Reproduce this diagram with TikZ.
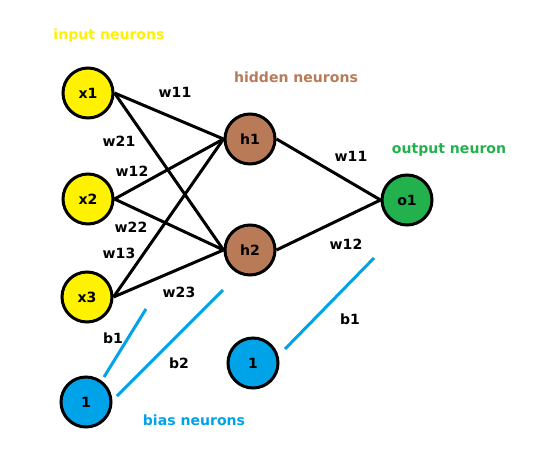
\documentclass[tikz,border=0pt]{standalone}
\usepackage{fontspec}
\setmainfont{DejaVu Sans}
\definecolor{inyellow}{RGB}{255,242,0}
\definecolor{hidbrown}{RGB}{185,122,87}
\definecolor{outgreen}{RGB}{34,177,76}
\definecolor{biasblue}{RGB}{0,162,232}
\begin{document}
\begin{tikzpicture}[x=0.03cm,y=-0.03cm,
        neuron/.style={circle,draw,line width=0.09cm,minimum size=1.5cm,inner sep=0pt,font=\bfseries\fontsize{12}{14}\selectfont},
        wire/.style={line width=0.09cm},
        biasline/.style={line width=0.09cm,biasblue},
        lbl/.style={font=\bfseries\fontsize{12}{14}\selectfont}]
        \useasboundingbox (0,0) rectangle (539,474);
        % neurons
        \node[neuron,fill=inyellow](x1) at (88,93){x1};
        \node[neuron,fill=inyellow](x2) at (88,199){x2};
        \node[neuron,fill=inyellow](x3) at (87,297){x3};
        \node[neuron,fill=hidbrown](h1) at (250,139){h1};
        \node[neuron,fill=hidbrown](h2) at (250,250){h2};
        \node[neuron,fill=outgreen](o1) at (407,200){o1};
        \node[neuron,fill=biasblue](b1) at (86,402){1};
        \node[neuron,fill=biasblue](b2) at (253,363){1};
        % weights
        \draw[wire](x1.east)--(h1.west);
        \draw[wire](x1.east)--(h2.west);
        \draw[wire](x2.east)--(h1.west);
        \draw[wire](x2.east)--(h2.west);
        \draw[wire](x3.east)--(h1.west);
        \draw[wire](x3.east)--(h2.west);
        \draw[wire](h1.east)--(o1.west);
        \draw[wire](h2.east)--(o1.west);
        % bias strokes
        \coordinate(b1a) at (104,377); \coordinate(b1b) at (146,309);
        \coordinate(b2a) at (117,396); \coordinate(b2b) at (223,290);
        \coordinate(b3a) at (285,349); \coordinate(b3b) at (374,258);
        \draw[biasline](b1a)--(b1b);
        \draw[biasline](b2a)--(b2b);
        \draw[biasline](b3a)--(b3b);
        % labels
        \node[lbl,inyellow](lin) at (109,36){input neurons};
        \node[lbl,hidbrown](lhid) at (296,77){hidden neurons};
        \node[lbl,outgreen](lout) at (449,150){output neuron};
        \node[lbl,biasblue](lbias) at (194,420){bias neurons};
        \node[lbl](w11a) at (175,92){w11};
        \node[lbl](w21) at (119,141){w21};
        \node[lbl](w12a) at (132,171){w12};
        \node[lbl](w22) at (131,227){w22};
        \node[lbl](w13) at (119,253){w13};
        \node[lbl](w23) at (179,292){w23};
        \node[lbl](w11b) at (351,156){w11};
        \node[lbl](w12b) at (346,244){w12};
        \node[lbl](lb1) at (113,338){b1};
        \node[lbl](lb2) at (179,363){b2};
        \node[lbl](lb3) at (350,319){b1};
    \end{tikzpicture}
\end{document}
